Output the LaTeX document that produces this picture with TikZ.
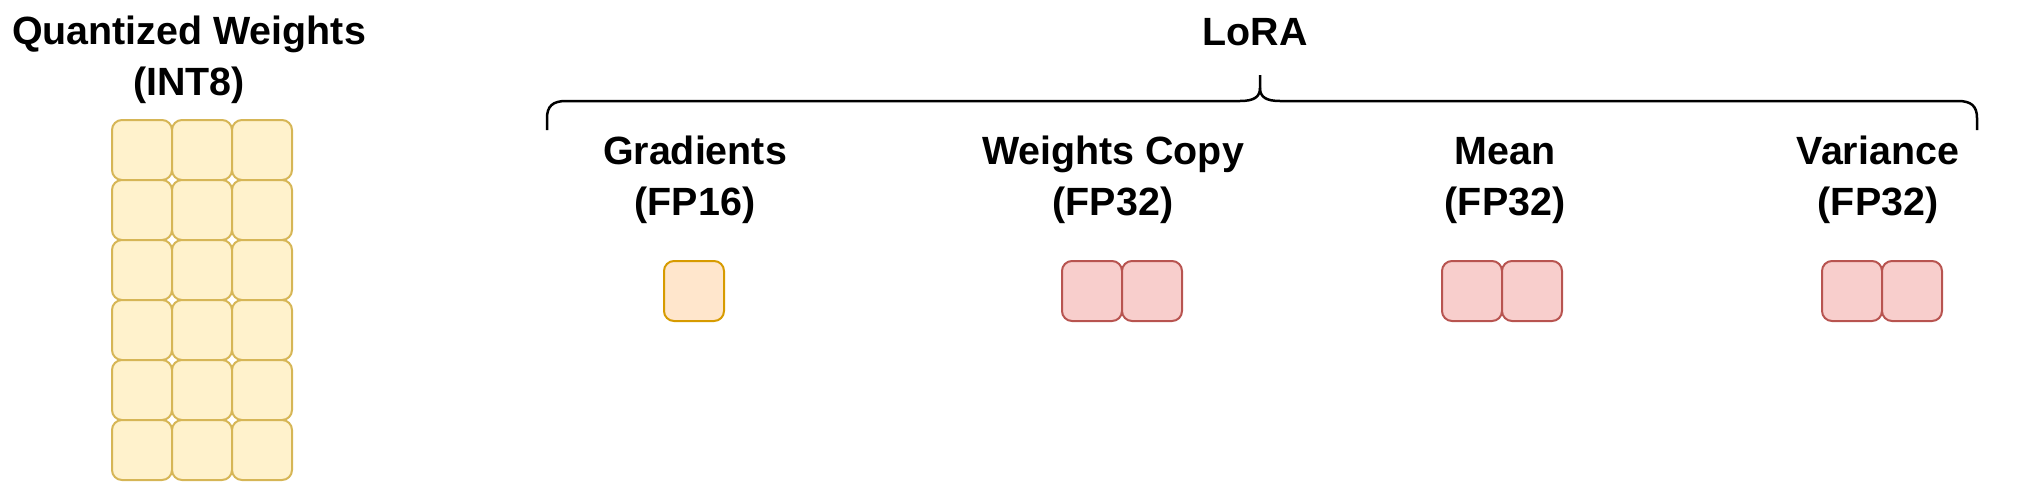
\documentclass[tikz,border=0pt]{standalone}
\usepackage{fontspec}
\setmainfont{Liberation Sans}
\definecolor{yfill}{HTML}{FFF2CC}
\definecolor{ydraw}{HTML}{D6B656}
\definecolor{ofill}{HTML}{FFE6CC}
\definecolor{odraw}{HTML}{D79B00}
\definecolor{rfill}{HTML}{F8CECC}
\definecolor{rdraw}{HTML}{B85450}
\begin{document}
\begin{tikzpicture}[x=1pt,y=-1pt,
  cellbox/.style={draw, line width=2pt, rounded corners=10pt, minimum width=60pt, minimum height=60pt, inner sep=0pt, outer sep=0pt},
  ycell/.style={cellbox, fill=yfill, draw=ydraw},
  ocell/.style={cellbox, fill=ofill, draw=odraw},
  rcell/.style={cellbox, fill=rfill, draw=rdraw},
  lbl/.style={font=\fontsize{39.4}{51}\selectfont\bfseries, align=center, inner sep=0pt, anchor=base}]
\useasboundingbox (0,0) rectangle (2038,482);
% quantized weights grid
\foreach \r in {1,...,6} {
  \foreach \c in {1,2,3} {
    \node[ycell] (q\r\c) at ({112+60*\c-30},{120+60*\r-30}) {};
  }
}
\node[lbl] (qlabel) at (189,95) {Quantized Weights\\(INT8)};
% LoRA
\node[lbl] (lora) at (1255,45) {LoRA};
\draw[line width=2.5pt] (547,130) -- (547,118) .. controls (547,106) and (553,101) .. (566,101) -- (1240,101) .. controls (1254,101) and (1260,97) .. (1260,88) -- (1260,75);
\draw[line width=2.5pt] (1977,130) -- (1977,118) .. controls (1977,106) and (1971,101) .. (1958,101) -- (1280,101) .. controls (1266,101) and (1260,97) .. (1260,88);
% labels
\node[lbl] (glabel) at (695,215) {Gradients\\(FP16)};
\node[lbl] (wlabel) at (1113,215) {Weights Copy\\(FP32)};
\node[lbl] (mlabel) at (1505,215) {Mean\\(FP32)};
\node[lbl] (vlabel) at (1878,215) {Variance\\(FP32)};
% cells
\node[ocell] (g1) at (694,291) {};
\node[rcell] (w1) at (1092,291) {};
\node[rcell] (w2) at (1152,291) {};
\node[rcell] (m1) at (1472,291) {};
\node[rcell] (m2) at (1532,291) {};
\node[rcell] (v1) at (1852,291) {};
\node[rcell] (v2) at (1912,291) {};
\end{tikzpicture}
\end{document}
